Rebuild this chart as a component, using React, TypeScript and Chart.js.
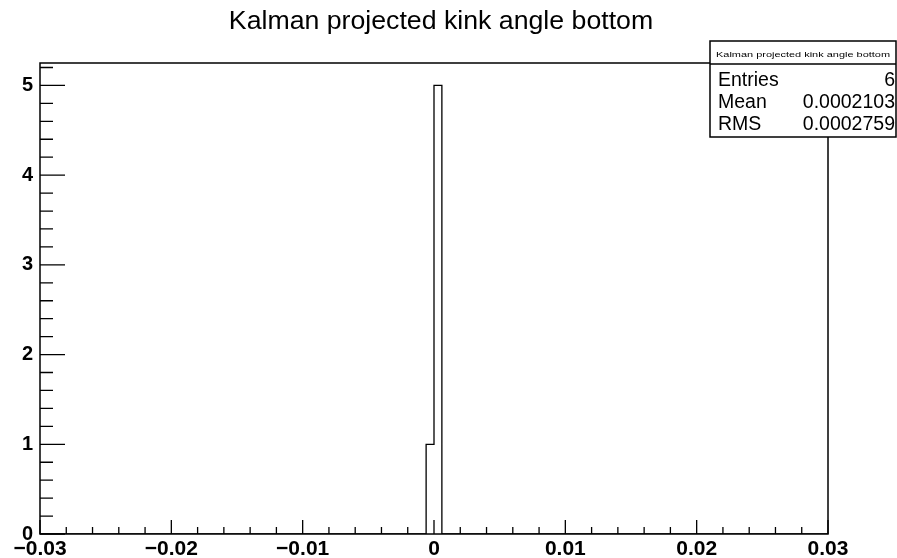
import { useEffect, useRef } from "react";
import { Chart, registerables } from "chart.js";

Chart.register(...registerables);

const TITLE = "Kalman projected kink angle bottom";
const X_MIN = -0.03;
const X_MAX = 0.03;
const N_BINS = 100;
const Y_MAX = 5.25;

// counts per bin (100 bins from -0.03 to 0.03)
const BIN_COUNTS = [
  0, 0, 0, 0, 0, 0, 0, 0, 0, 0,
  0, 0, 0, 0, 0, 0, 0, 0, 0, 0,
  0, 0, 0, 0, 0, 0, 0, 0, 0, 0,
  0, 0, 0, 0, 0, 0, 0, 0, 0, 0,
  0, 0, 0, 0, 0, 0, 0, 0, 0, 1,
  5, 0, 0, 0, 0, 0, 0, 0, 0, 0,
  0, 0, 0, 0, 0, 0, 0, 0, 0, 0,
  0, 0, 0, 0, 0, 0, 0, 0, 0, 0,
  0, 0, 0, 0, 0, 0, 0, 0, 0, 0,
  0, 0, 0, 0, 0, 0, 0, 0, 0, 0,
];

const X_TICK_VALUES = [-0.03, -0.02, -0.01, 0, 0.01, 0.02, 0.03];
const X_TICK_LABELS = ["\u22120.03", "\u22120.02", "\u22120.01", "0", "0.01", "0.02", "0.03"];
const X_MINOR_STEP = 0.002;
const Y_TICK_VALUES = [0, 1, 2, 3, 4, 5];
const Y_TICK_LABELS = ["0", "1", "2", "3", "4", "5"];
const Y_MINOR_STEP = 0.2;

const STATS_TITLE = "Kalman projected kink angle bottom";
const STATS_LABELS = ["Entries", "Mean", "RMS"];
const STATS_VALUES = ["6", "0.0002103", "0.0002759"];

const FONT = '"Liberation Sans", Arial, Helvetica, sans-serif';

const rootPlugin = {
  id: "rootFrame",
  afterDraw(chart: any) {
    const { ctx, chartArea: a, scales } = chart;
    const x = scales.x;
    const y = scales.y;
    ctx.save();
    ctx.strokeStyle = "#000";
    ctx.lineWidth = 1.5;
    ctx.strokeRect(a.left, a.top, a.right - a.left, a.bottom - a.top);

    ctx.lineWidth = 1.3;
    ctx.beginPath();
    const nY = Math.floor(Y_MAX / Y_MINOR_STEP + 1e-6);
    for (let k = 0; k <= nY; k++) {
      const v = k * Y_MINOR_STEP;
      const py = y.getPixelForValue(v);
      const major = k % 5 === 0;
      ctx.moveTo(a.left, py);
      ctx.lineTo(a.left + (major ? 25 : 13), py);
    }
    const nX = Math.round((X_MAX - X_MIN) / X_MINOR_STEP);
    for (let k = 0; k <= nX; k++) {
      const v = X_MIN + k * X_MINOR_STEP;
      const px = x.getPixelForValue(v);
      const major = k % 5 === 0;
      ctx.moveTo(px, a.bottom);
      ctx.lineTo(px, a.bottom - (major ? 14 : 7));
    }
    ctx.stroke();

    // title
    ctx.fillStyle = "#000";
    ctx.font = `26.7px ${FONT}`;
    ctx.textAlign = "center";
    ctx.textBaseline = "alphabetic";
    ctx.fillText(TITLE, 441, 29);

    // stats box
    const bx = 710, by = 41, bw = 186, bh = 96, sep = 64;
    ctx.fillStyle = "#fff";
    ctx.fillRect(bx, by, bw, bh);
    ctx.lineWidth = 1.5;
    ctx.strokeRect(bx, by, bw, bh);
    ctx.beginPath();
    ctx.moveTo(bx, sep);
    ctx.lineTo(bx + bw, sep);
    ctx.stroke();

    ctx.fillStyle = "#000";
    ctx.font = `8px ${FONT}`;
    ctx.textAlign = "left";
    const tw = ctx.measureText(STATS_TITLE).width;
    const targetW = 174;
    ctx.save();
    ctx.translate(bx + (bw - targetW) / 2, 57);
    ctx.scale(targetW / tw, 1);
    ctx.fillText(STATS_TITLE, 0, 0);
    ctx.restore();

    ctx.font = `19.5px ${FONT}`;
    const baselines = [86, 108, 130];
    for (let i = 0; i < STATS_LABELS.length; i++) {
      ctx.textAlign = "left";
      ctx.fillText(STATS_LABELS[i], 718, baselines[i]);
      ctx.textAlign = "right";
      ctx.fillText(STATS_VALUES[i], 895, baselines[i]);
    }
    ctx.restore();
  },
};

export default function App() {
  const ref = useRef<HTMLCanvasElement | null>(null);
  useEffect(() => {
    if (!ref.current) return;
    const binWidth = (X_MAX - X_MIN) / N_BINS;
    const points = BIN_COUNTS.map((c, i) => ({ x: X_MIN + i * binWidth, y: c }));
    points.push({ x: X_MAX, y: 0 });
    const chart = new Chart(ref.current, {
      type: "line",
      data: {
        datasets: [
          {
            data: points,
            stepped: "before",
            borderColor: "#000",
            borderWidth: 1.3,
            pointRadius: 0,
            fill: false,
          },
        ],
      },
      options: {
        responsive: false,
        animation: false,
        events: [],
        layout: { padding: { top: 63, right: 69, left: 0, bottom: 0 } },
        plugins: {
          legend: { display: false },
          tooltip: { enabled: false },
          title: { display: false },
        },
        scales: {
          x: {
            type: "linear",
            min: X_MIN,
            max: X_MAX,
            afterBuildTicks: (s: any) => {
              s.ticks = X_TICK_VALUES.map((v) => ({ value: v }));
            },
            afterFit: (s: any) => {
              s.height = 24;
            },
            grid: { display: false, drawTicks: false },
            border: { display: false },
            ticks: {
              callback: (_v: any, i: number) => X_TICK_LABELS[i],
              font: { family: FONT, size: 21, weight: "bold" },
              color: "#000",
              padding: 3,
              maxRotation: 0,
              autoSkip: false,
            },
          },
          y: {
            type: "linear",
            min: 0,
            max: Y_MAX,
            afterBuildTicks: (s: any) => {
              s.ticks = Y_TICK_VALUES.map((v) => ({ value: v }));
            },
            afterFit: (s: any) => {
              s.width = 40;
            },
            grid: { display: false, drawTicks: false },
            border: { display: false },
            ticks: {
              callback: (_v: any, i: number) => Y_TICK_LABELS[i],
              font: { family: FONT, size: 20, weight: "bold" },
              color: "#000",
              padding: 7,
              autoSkip: false,
            },
          },
        },
      },
      plugins: [rootPlugin],
    });
    return () => chart.destroy();
  }, []);
  return (
    <div style={{ position: "absolute", left: 0, top: 0, width: 897, height: 558, background: "#fff" }}>
      <canvas ref={ref} width={897} height={558} />
    </div>
  );
}
